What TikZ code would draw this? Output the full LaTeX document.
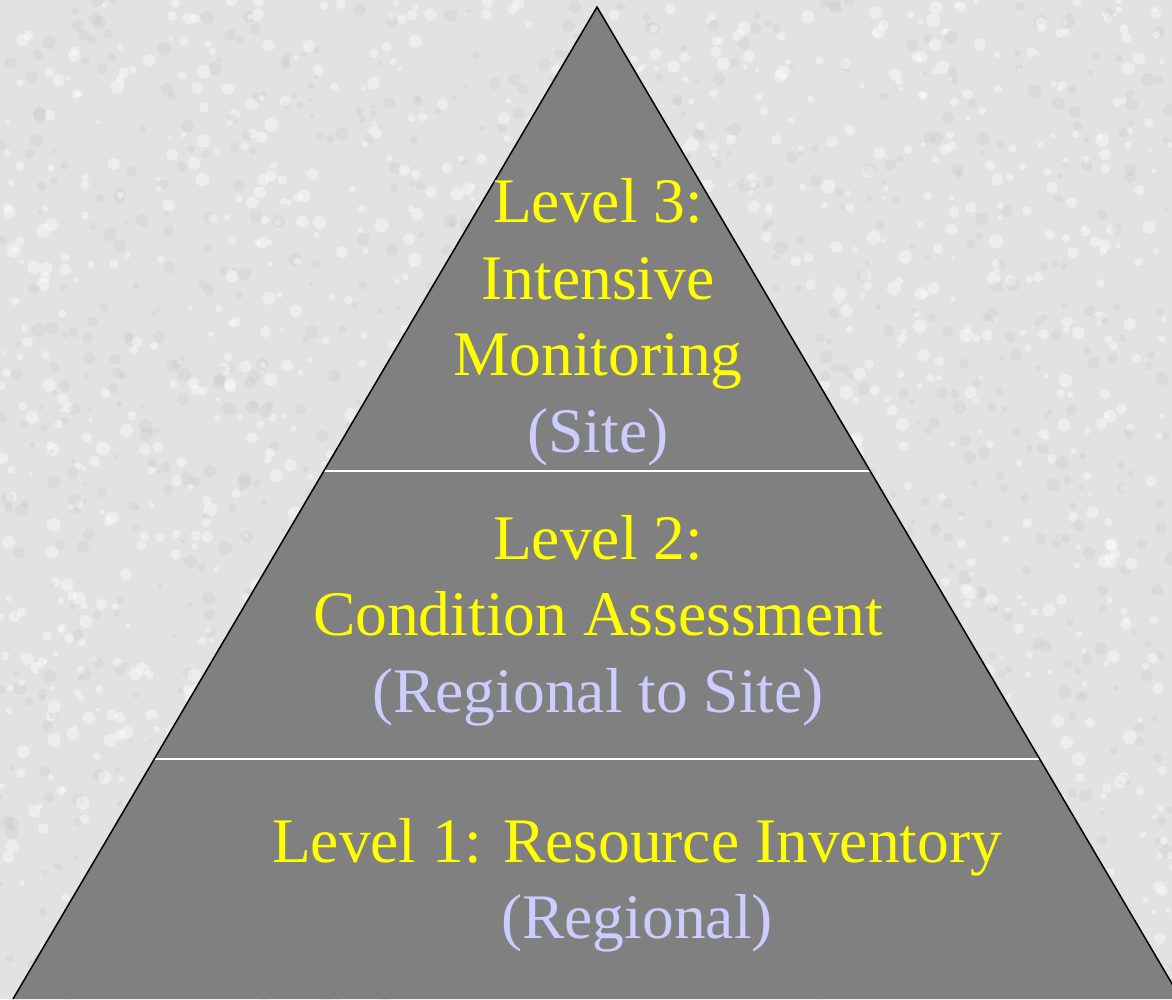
\documentclass[tikz,border=0pt]{standalone}
\usepackage{fontspec}
\setmainfont{Liberation Serif}
\usetikzlibrary{calc}
\definecolor{bgcol}{RGB}{226,226,226}
\definecolor{pyr}{RGB}{128,128,128}
\definecolor{yel}{RGB}{255,255,0}
\definecolor{lav}{RGB}{204,204,255}
\tikzset{
  lvl/.style={anchor=base, inner sep=0pt, text=yel, font=\fontsize{63.5}{76.5}\selectfont},
  sub/.style={lvl, text=lav},
  sep/.style={white, line width=2pt},
}
\begin{document}
\begin{tikzpicture}[x=1pt,y=-1pt]
\useasboundingbox (0,0) rectangle (1172,999);
\fill[bgcol] (0,0) rectangle (1172,999);
\pgfmathsetseed{42}
\begin{scope}
\clip (0,0) rectangle (1172,999);
\foreach \i in {1,...,2600}{
  \pgfmathsetmacro{\xx}{rnd*1172}
  \pgfmathsetmacro{\yy}{rnd*999}
  \pgfmathsetmacro{\rr}{2+rnd*5}
  \pgfmathsetmacro{\cc}{rnd}
  \ifdim\cc pt<0.45pt
    \fill[gray!45, opacity=0.25] (\xx,\yy) circle (\rr);
  \else
    \fill[white, opacity=0.4] (\xx,\yy) circle (\rr);
  \fi
}
\end{scope}
\coordinate (apex) at (597,7);
\coordinate (bl) at (13,999);
\coordinate (br) at (1181,999);
\coordinate (s1l) at ($(apex)!0.4677!(bl)$);
\coordinate (s1r) at ($(apex)!0.4677!(br)$);
\coordinate (s2l) at ($(apex)!0.7581!(bl)$);
\coordinate (s2r) at ($(apex)!0.7581!(br)$);
\begin{scope}
\clip (0,0) rectangle (1172,999);
\fill[pyr] (apex) -- (bl) -- (br) -- cycle;
\draw[sep] (s1l) -- (s1r);
\draw[sep] (s2l) -- (s2r);
\draw[black, line width=1.5pt, line join=miter] (bl) -- (apex) -- (br);
\end{scope}
% Level 3
\node[lvl] (l3a) at (598,222.5) {Level 3:};
\node[lvl] (l3b) at (598,299) {Intensive};
\node[lvl] (l3c) at (598,375.5) {Monitoring};
\node[sub] (l3d) at (598,452) {(Site)};
% Level 2
\node[lvl] (l2a) at (598,559) {Level 2:};
\node[lvl] (l2b) at (598,635.5) {Condition Assessment};
\node[sub] (l2c) at (598,712) {(Regional to Site)};
% Level 1
\node[lvl] (l1a) at (637,862) {Level 1: Resource Inventory};
\node[sub] (l1b) at (637,938.5) {(Regional)};
\end{tikzpicture}
\end{document}
